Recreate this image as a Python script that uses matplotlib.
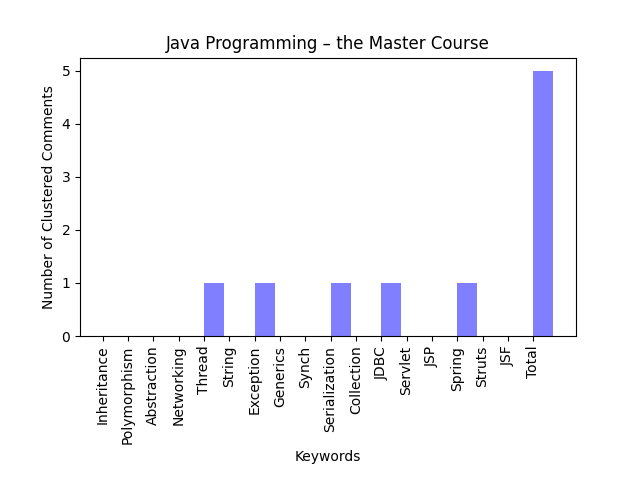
import matplotlib
matplotlib.use("Agg")
import matplotlib.pyplot as plt
import numpy as np

keywords = ["Inheritance", "Polymorphism", "Abstraction", "Networking", "Thread",
            "String", "Exception", "Generics", "Synch", "Serialization",
            "Collection", "JDBC", "Servlet", "JSP", "Spring", "Struts", "JSF", "Total"]
counts = [0, 0, 0, 0, 1, 0, 1, 0, 0, 1, 0, 1, 0, 0, 1, 0, 0, 5]

fig, ax = plt.subplots(figsize=(6.4, 4.8), dpi=100)
index = np.arange(len(keywords))
ax.bar(index, counts, 0.8, align='edge', color='b', alpha=0.5)
ax.set_xticks(index)
ax.set_xticklabels(keywords, rotation=90)
ax.set_xlabel("Keywords")
ax.set_ylabel("Number of Clustered Comments")
ax.set_title("Java Programming \u2013 the Master Course")
fig.subplots_adjust(bottom=0.3)
fig.savefig("out.png")
